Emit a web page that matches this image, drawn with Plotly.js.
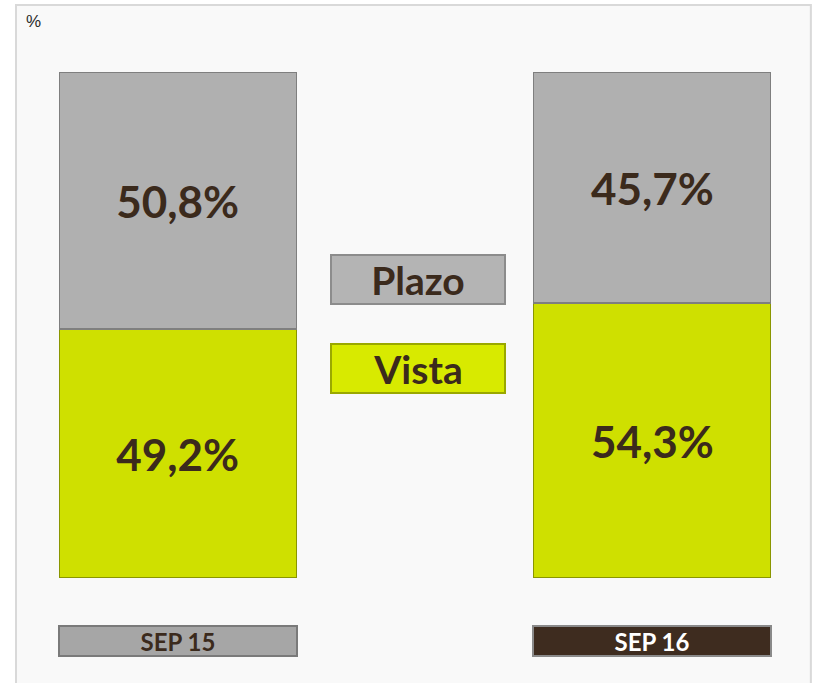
<!DOCTYPE html>
<html>
<head>
<meta charset="utf-8">
<script src="https://cdn.plot.ly/plotly-3.0.1.min.js"></script>
<style>html,body{margin:0;padding:0;background:#fff;}#chart{width:813px;height:683px;}</style>
</head>
<body>
<div id="chart"></div>
<script>
var categories = ["SEP 15", "SEP 16"];
var vista = [49.2, 54.3];
var plazo = [50.8, 45.7];
var seriesNames = ["Vista", "Plazo"];

function fmt(v) { return "<b>" + v.toFixed(1).replace(".", ",") + "%</b>"; }

var FONT = "Lato, Open Sans, Liberation Sans, sans-serif";
var labelFont = {family: FONT, size: 44, color: "#3b2a1c"};

var traces = [
  {
    type: "bar", name: seriesNames[0], x: categories, y: vista,
    text: vista.map(fmt), textposition: "inside", insidetextanchor: "middle",
    textfont: labelFont, constraintext: "none",
    marker: {color: "#cfe000", line: {color: "#8a9600", width: 1.5}},
    width: 0.5, hoverinfo: "skip"
  },
  {
    type: "bar", name: seriesNames[1], x: categories, y: plazo,
    text: plazo.map(fmt), textposition: "inside", insidetextanchor: "middle",
    textfont: labelFont, constraintext: "none",
    marker: {color: "#b0b0b0", line: {color: "#7f7f7f", width: 1.5}},
    width: 0.5, hoverinfo: "skip"
  }
];

var annotations = [
  {xref: "paper", yref: "paper", x: -0.0365, y: 1.099, text: "%", showarrow: false,
   font: {family: "Liberation Sans, Arial, sans-serif", size: 17, color: "#2b2b2b"}, xanchor: "center", yanchor: "middle"},
  {xref: "paper", yref: "paper", x: 0.504, y: 0.589, xanchor: "center", yanchor: "middle",
   text: "<b>" + seriesNames[1] + "</b>", showarrow: false,
   width: 172, height: 47, bgcolor: "#b4b4b4", bordercolor: "#8c8c8c", borderwidth: 2, borderpad: 0,
   font: {family: FONT, size: 39, color: "#3b2a1c"}},
  {xref: "paper", yref: "paper", x: 0.504, y: 0.415, xanchor: "center", yanchor: "middle",
   text: "<b>" + seriesNames[0] + "</b>", showarrow: false,
   width: 172, height: 47, bgcolor: "#d8ea00", bordercolor: "#9aa800", borderwidth: 2, borderpad: 0,
   font: {family: FONT, size: 39, color: "#3b2a1c"}},
  {xref: "x", yref: "paper", x: categories[0], y: -0.1245, xanchor: "center", yanchor: "middle",
   text: "<b>" + categories[0] + "</b>", showarrow: false,
   width: 236, height: 28, bgcolor: "#a6a6a6", bordercolor: "#7a7a7a", borderwidth: 2, borderpad: 0,
   font: {family: FONT, size: 24, color: "#3b2a1c"}},
  {xref: "x", yref: "paper", x: categories[1], y: -0.1245, xanchor: "center", yanchor: "middle",
   text: "<b>" + categories[1] + "</b>", showarrow: false,
   width: 236, height: 28, bgcolor: "#3e2c1f", bordercolor: "#8a8a8a", borderwidth: 2, borderpad: 0,
   font: {family: FONT, size: 24, color: "#ffffff"}}
];

var layout = {
  width: 813, height: 683,
  margin: {l: 59, r: 42, t: 72, b: 105, pad: 0},
  paper_bgcolor: "#ffffff",
  plot_bgcolor: "rgba(0,0,0,0)",
  barmode: "stack",
  showlegend: false,
  xaxis: {type: "category", range: [-0.25, 1.25], showticklabels: false, showgrid: false, zeroline: false, showline: false, fixedrange: true},
  yaxis: {range: [0, 100], showticklabels: false, showgrid: false, zeroline: false, showline: false, fixedrange: true},
  annotations: annotations,
  shapes: [
    {type: "rect", xref: "paper", yref: "paper", x0: -0.0604, x1: 1.056, y0: -0.23, y1: 1.1324,
     line: {color: "#d9d9d9", width: 2}, fillcolor: "#f9f9f9", layer: "below"}
  ]
};

Plotly.newPlot("chart", traces, layout, {displayModeBar: false, staticPlot: true});
</script>
</body>
</html>
